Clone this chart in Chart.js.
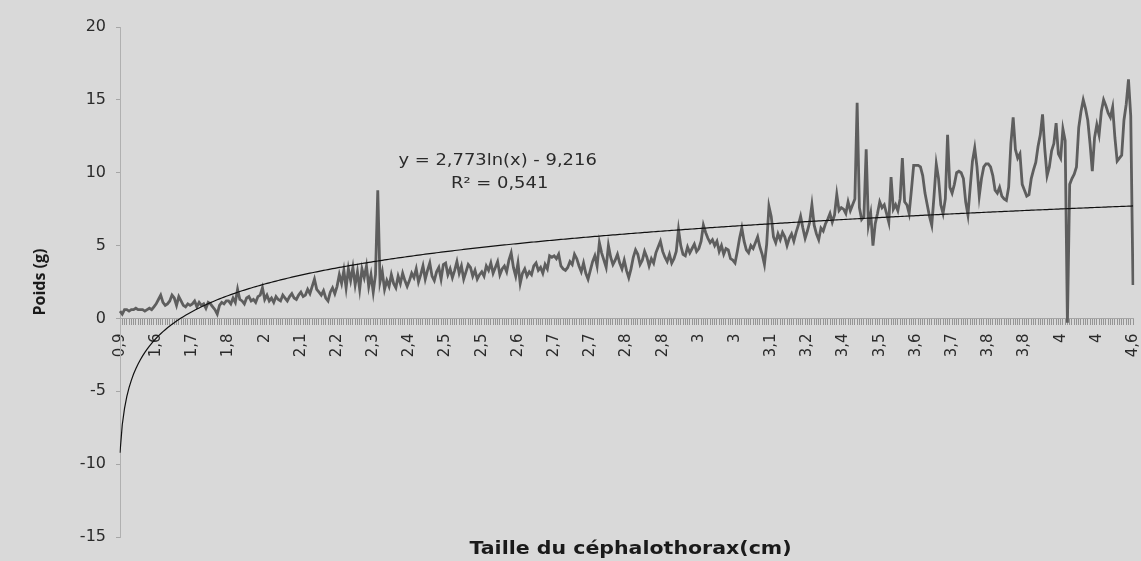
<!DOCTYPE html>
<html>
<head>
<meta charset="utf-8">
<script src="https://cdn.jsdelivr.net/npm/chart.js@4.4.0/dist/chart.umd.min.js"></script>
<style>
  html, body { margin: 0; padding: 0; background: #d9d9d9; }
  #wrap { width: 1141px; height: 561px; }
</style>
</head>
<body>
<div id="wrap"><canvas id="poidsChart" width="1141" height="561"></canvas></div>
<script>
// Tick labels shown on the category axis (one every 16 points)
const tickLabels = ['0,9', '1,6', '1,7', '1,8', '2', '2,1', '2,2', '2,3', '2,4', '2,5',
    '2,5', '2,6', '2,7', '2,7', '2,8', '2,8', '3', '3', '3,1', '3,2',
    '3,4', '3,5', '3,6', '3,7', '3,8', '3,8', '4', '4', '4,6'];
const labelStep = 16;

// Poids (g), 16 points per label interval
const poids = [
    0.5, 0.3, 0.6, 0.6, 0.5, 0.6, 0.6, 0.7, 0.6, 0.6, 0.6, 0.5, 0.6, 0.7, 0.6, 0.8,
    1.0, 1.3, 1.6, 1.1, 0.9, 1.0, 1.2, 1.6, 1.4, 0.9, 1.5, 1.2, 0.9, 0.8, 1.0, 0.9,
    1.0, 1.2, 0.8, 1.1, 0.9, 1.0, 0.7, 1.1, 1.0, 0.8, 0.6, 0.3, 0.9, 1.1, 1.0, 1.2,
    1.2, 1.0, 1.4, 1.1, 2.0, 1.3, 1.2, 1.0, 1.4, 1.5, 1.2, 1.3, 1.1, 1.5, 1.6, 2.1,
    1.3, 1.6, 1.2, 1.4, 1.1, 1.5, 1.3, 1.2, 1.6, 1.4, 1.2, 1.5, 1.7, 1.4, 1.3, 1.6,
    1.8, 1.5, 1.6, 2.0, 1.7, 2.2, 2.7, 2.0, 1.8, 1.6, 1.9, 1.4, 1.2, 1.8, 2.1, 1.7,
    2.2, 3.0, 2.4, 3.3, 2.1, 3.4, 2.6, 3.5, 2.3, 3.2, 2.0, 3.4, 2.8, 3.6, 2.2, 3.0,
    1.8, 3.0, 8.8, 2.5, 3.2, 2.0, 2.6, 2.2, 3.0, 2.4, 2.1, 2.9, 2.4, 3.1, 2.6, 2.2,
    2.6, 3.1, 2.8, 3.4, 2.5, 3.0, 3.6, 2.7, 3.3, 3.8, 2.9, 2.6, 3.2, 3.5, 2.7, 3.7,
    3.8, 3.0, 3.4, 2.8, 3.3, 3.9, 3.1, 3.6, 2.7, 3.2, 3.7, 3.5, 2.9, 3.3, 2.7, 3.0,
    3.2, 2.9, 3.6, 3.3, 3.8, 3.1, 3.5, 3.9, 3.0, 3.4, 3.6, 3.2, 4.0, 4.5, 3.5, 2.9,
    3.8, 2.4, 3.1, 3.4, 2.9, 3.2, 3.0, 3.6, 3.8, 3.3, 3.5, 3.1, 3.7, 3.4, 4.3, 4.2,
    4.3, 4.1, 4.4, 3.6, 3.4, 3.3, 3.5, 3.9, 3.7, 4.4, 4.1, 3.6, 3.2, 3.8, 3.1, 2.7,
    3.3, 3.9, 4.3, 3.6, 5.2, 4.5, 4.0, 3.5, 5.0, 4.2, 3.7, 4.0, 4.4, 3.8, 3.4, 4.0,
    3.3, 2.8, 3.4, 4.2, 4.7, 4.4, 3.7, 4.0, 4.6, 4.2, 3.6, 4.1, 3.8, 4.5, 4.9, 5.3,
    4.6, 4.2, 3.9, 4.4, 3.8, 4.1, 4.6, 6.1, 5.0, 4.4, 4.3, 4.9, 4.5, 4.8, 5.1, 4.6,
    4.8, 5.3, 6.4, 5.9, 5.5, 5.2, 5.4, 5.0, 5.3, 4.6, 5.0, 4.4, 4.8, 4.7, 4.1, 4.0,
    3.8, 4.6, 5.5, 6.2, 5.3, 4.7, 4.5, 5.0, 4.8, 5.2, 5.6, 4.9, 4.4, 3.7, 5.1, 7.7,
    7.0, 5.6, 5.2, 5.8, 5.4, 5.9, 5.6, 5.0, 5.5, 5.8, 5.3, 5.9, 6.4, 7.0, 6.2, 5.5,
    6.0, 6.6, 7.8, 6.4, 5.8, 5.4, 6.2, 6.0, 6.5, 6.8, 7.2, 6.6, 7.1, 8.5, 7.4, 7.6,
    7.5, 7.2, 8.0, 7.4, 7.8, 8.2, 14.8, 7.6, 6.8, 7.0, 11.6, 6.4, 7.2, 5.0, 6.5, 7.2,
    8.0, 7.6, 7.8, 7.2, 6.6, 9.7, 7.5, 7.8, 7.4, 8.2, 11.0, 8.0, 7.8, 7.2, 8.8, 10.5,
    10.5, 10.5, 10.4, 9.8, 8.6, 7.8, 7.0, 6.4, 8.4, 10.6, 9.6, 7.8, 7.2, 8.2, 12.6, 9.0,
    8.6, 9.2, 10.0, 10.1, 10.0, 9.6, 8.0, 7.1, 9.0, 10.8, 11.7, 10.4, 8.4, 9.6, 10.4, 10.6,
    10.6, 10.4, 9.8, 8.8, 8.6, 9.0, 8.4, 8.2, 8.1, 9.0, 12.0, 13.8, 11.6, 11.0, 11.3, 9.2,
    8.8, 8.4, 8.5, 9.6, 10.2, 10.7, 11.8, 12.6, 14.0, 11.6, 9.8, 10.4, 11.5, 12.0, 13.4, 11.3,
    11.0, 13.0, 12.2, -0.3, 9.2, 9.6, 9.9, 10.4, 13.1, 14.2, 15.0, 14.4, 13.6, 12.0, 10.1, 12.4,
    13.3, 12.6, 14.2, 15.0, 14.6, 14.1, 13.8, 14.5, 12.4, 10.8, 11.0, 11.2, 13.6, 14.7, 16.4, 13.9, 2.3
];

// Logarithmic trend line as printed on the chart
const trendA = 2.773;
const trendB = -9.216;
const trendText = ['y = 2,773ln(x) - 9,216', 'R\u00b2 = 0,541'];
const xTitle = 'Taille du céphalothorax(cm)';

const categories = poids.map((v, i) => (i % labelStep === 0 ? tickLabels[i / labelStep] : ''));
const trend = poids.map((v, i) => trendA * Math.log(i + 1) + trendB);

const SANS = '"Open Sans", sans-serif';
const WIDE = '"DejaVu Sans", sans-serif';

// the scanned chart is a bit stretched sideways, so texts are widened
function wideText(c, text, x, y, stretch) {
    c.save();
    c.translate(x, y);
    c.scale(stretch, 1);
    c.fillText(text, 0, 0);
    c.restore();
}

// Grey background, equation and x axis title
const extras = {
    id: 'extras',
    beforeDraw(chart) {
        const c = chart.ctx;
        c.save();
        c.fillStyle = '#d9d9d9';
        c.fillRect(0, 0, chart.width, chart.height);
        c.restore();
    },
    afterDraw(chart) {
        const c = chart.ctx;
        const area = chart.chartArea;
        const x = chart.scales.x.getPixelForValue(167);
        c.save();
        c.fillStyle = '#2b2b2b';
        c.font = '16px ' + WIDE;
        c.textAlign = 'center';
        c.textBaseline = 'middle';
        wideText(c, trendText[0], x, chart.scales.y.getPixelForValue(10.8), 1.12);
        wideText(c, trendText[1], x + 2, chart.scales.y.getPixelForValue(9.25), 1.12);

        c.fillStyle = '#1a1a1a';
        c.font = 'bold 18px ' + WIDE;
        wideText(c, xTitle, (area.left + area.right) / 2 + 4, 549, 1.14);
        c.restore();
    }
};

const ctx = document.getElementById('poidsChart').getContext('2d');

const chart = new Chart(ctx, {
    type: 'line',
    data: {
        labels: categories,
        datasets: [{
            label: 'Tendance',
            data: trend,
            borderColor: '#111111',
            borderWidth: 1.2,
            pointRadius: 0,
            order: 0
        }, {
            label: 'Poids',
            data: poids,
            borderColor: '#5e5e5e',
            borderWidth: 2.8,
            pointRadius: 0,
            tension: 0,
            order: 1
        }]
    },
    options: {
        responsive: false,
        animation: false,
        layout: {
            padding: { top: 27, right: 8, left: 0, bottom: 24 }
        },
        plugins: {
            legend: { display: false },
            tooltip: { enabled: false },
            title: { display: false }
        },
        scales: {
            x: {
                type: 'category',
                position: { y: 0 },
                offset: false,
                grid: {
                    display: true,
                    drawOnChartArea: false,
                    drawTicks: true,
                    tickLength: 6,
                    color: '#959595'
                },
                border: { display: true, color: '#a6a6a6' },
                ticks: {
                    autoSkip: false,
                    sampleSize: 1000,
                    minRotation: 90,
                    maxRotation: 90,
                    padding: 9,
                    color: '#2b2b2b',
                    font: { family: WIDE, size: 15 },
                    callback: (val, i) => categories[i]
                },
                afterFit(scale) {
                    scale.paddingLeft = 0;
                    scale.paddingRight = 0;
                }
            },
            y: {
                min: -15,
                max: 20,
                ticks: {
                    stepSize: 5,
                    padding: 10,
                    color: '#2b2b2b',
                    font: { family: WIDE, size: 16 }
                },
                grid: {
                    display: true,
                    drawOnChartArea: false,
                    drawTicks: true,
                    tickLength: 4,
                    color: '#a6a6a6'
                },
                border: { display: true, color: '#b0b0b0' },
                title: {
                    display: true,
                    text: 'Poids (g)',
                    color: '#1a1a1a',
                    font: { family: SANS, size: 16, weight: 'bold' },
                    padding: { top: 31, bottom: 0 }
                },
                afterFit(scale) {
                    scale.width = 120;
                }
            }
        }
    },
    plugins: [extras]
});
</script>
</body>
</html>
